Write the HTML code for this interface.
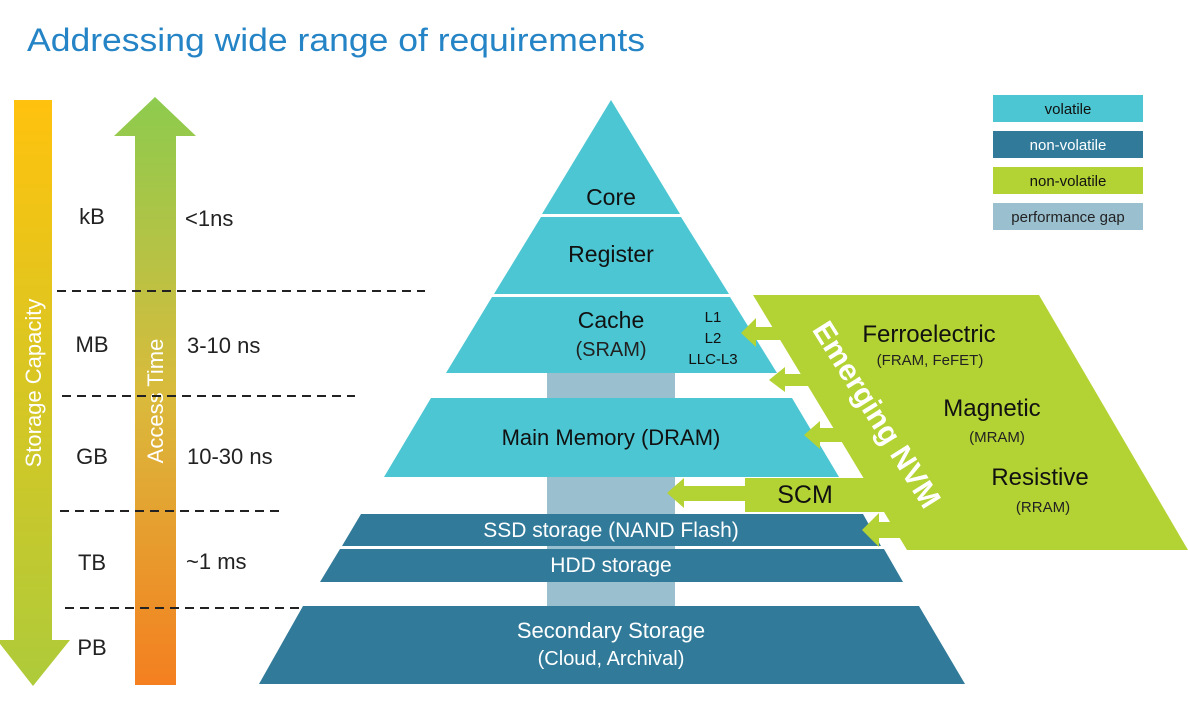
<!DOCTYPE html>
<html><head><meta charset="utf-8"><style>
html,body{margin:0;padding:0;background:#fff;}
svg{display:block;font-family:"Liberation Sans",sans-serif;}
</style></head><body>
<svg width="1188" height="715" viewBox="0 0 1188 715">
<defs>
<linearGradient id="g1" x1="0" y1="0" x2="0" y2="1"><stop offset="0" stop-color="#FFC20E"/><stop offset="1" stop-color="#AECB3A"/></linearGradient>
<linearGradient id="g2" x1="0" y1="0" x2="0" y2="1"><stop offset="0" stop-color="#8DCB4E"/><stop offset="0.5" stop-color="#D9BB3C"/><stop offset="1" stop-color="#F47F20"/></linearGradient>
</defs>
<text x="27" y="51" font-size="32" fill="#2484C6" textLength="618" lengthAdjust="spacingAndGlyphs">Addressing wide range of requirements</text>

<!-- left arrows -->
<polygon points="14,100 52,100 52,640 70,640 33,686 -3,640 14,640" fill="url(#g1)"/>
<polygon points="155,97 196,136 176,136 176,685 135,685 135,136 114,136" fill="url(#g2)"/>
<text transform="translate(41,383) rotate(-90)" text-anchor="middle" font-size="22" fill="#fff">Storage Capacity</text>
<text transform="translate(163,401) rotate(-90)" text-anchor="middle" font-size="22" fill="#fff">Access Time</text>

<g stroke="#222" stroke-width="2" stroke-dasharray="9,6">
<line x1="57" y1="291" x2="425" y2="291"/>
<line x1="62" y1="396" x2="355" y2="396"/>
<line x1="60" y1="511" x2="285" y2="511"/>
<line x1="65" y1="608" x2="305" y2="608"/>
</g>
<g font-size="22" fill="#222">
<text x="92" y="224" text-anchor="middle">kB</text><text x="185" y="226">&lt;1ns</text>
<text x="92" y="352" text-anchor="middle">MB</text><text x="187" y="353">3-10 ns</text>
<text x="92" y="464" text-anchor="middle">GB</text><text x="187" y="464">10-30 ns</text>
<text x="92" y="570" text-anchor="middle">TB</text><text x="186" y="569">~1 ms</text>
<text x="92" y="655" text-anchor="middle">PB</text>
</g>

<!-- gap bar -->
<rect x="547" y="372" width="128" height="236" fill="#9ABFCF"/>

<!-- pyramid -->
<polygon points="611,100 680,214 542,214" fill="#4BC6D2"/>
<polygon points="541,217 681,217 729,294 494,294" fill="#4BC6D2"/>
<polygon points="492,297 730,297 777,373 446,373" fill="#4BC6D2"/>
<polygon points="431,398 792,398 839,477 384,477" fill="#4BC6D2"/>
<polygon points="361,514 863,514 881,546 342,546" fill="#317A99"/>
<polygon points="340,549 884,549 903,582 320,582" fill="#317A99"/>
<polygon points="303,606 919,606 965,684 259,684" fill="#317A99"/>

<g fill="#111" text-anchor="middle">
<text x="611" y="205" font-size="23">Core</text>
<text x="611" y="262" font-size="23">Register</text>
<text x="611" y="328" font-size="23">Cache</text>
<text x="611" y="356" font-size="20" fill="#222">(SRAM)</text>
<text x="713" y="322" font-size="15">L1</text>
<text x="713" y="343" font-size="15">L2</text>
<text x="713" y="364" font-size="15">LLC-L3</text>
<text x="611" y="445" font-size="22">Main Memory (DRAM)</text>
</g>
<g fill="#fff" text-anchor="middle">
<text x="611" y="537" font-size="21">SSD storage (NAND Flash)</text>
<text x="611" y="572" font-size="21">HDD storage</text>
<text x="611" y="638" font-size="22">Secondary Storage</text>
<text x="611" y="665" font-size="20">(Cloud, Archival)</text>
</g>

<!-- green NVM -->
<polygon points="753,295 1039,295 1188,550 907,550" fill="#B3D234"/>
<g fill="#B3D234">
<polygon points="741,333 756,318 756,327 790,327 790,340 756,340 756,347"/>
<polygon points="769,380 785,367 785,374 818,374 818,386 785,386 785,392"/>
<polygon points="804,435 820,421 820,428 848,428 848,442 820,442 820,449"/>
<polygon points="862,530 879,513 879,522 905,522 905,538 879,538 879,547"/>
<rect x="745" y="478" width="140" height="34"/>
<polygon points="667,493 684,478 684,486 750,486 750,501 684,501 684,508"/>
</g>
<text transform="translate(868,420) rotate(58)" text-anchor="middle" font-size="30" font-weight="bold" fill="#fff">Emerging NVM</text>
<g fill="#111" text-anchor="middle">
<text x="805" y="503" font-size="25">SCM</text>
<text x="929" y="342" font-size="24">Ferroelectric</text>
<text x="930" y="365" font-size="15" fill="#222">(FRAM, FeFET)</text>
<text x="992" y="416" font-size="24">Magnetic</text>
<text x="997" y="442" font-size="15" fill="#222">(MRAM)</text>
<text x="1040" y="485" font-size="24">Resistive</text>
<text x="1043" y="512" font-size="15" fill="#222">(RRAM)</text>
</g>

<!-- legend -->
<rect x="993" y="95" width="150" height="27" fill="#4BC6D2"/>
<rect x="993" y="131" width="150" height="27" fill="#317A99"/>
<rect x="993" y="167" width="150" height="27" fill="#B3D234"/>
<rect x="993" y="203" width="150" height="27" fill="#9ABFCF"/>
<g font-size="15" text-anchor="middle">
<text x="1068" y="114" fill="#111">volatile</text>
<text x="1068" y="150" fill="#fff">non-volatile</text>
<text x="1068" y="186" fill="#111">non-volatile</text>
<text x="1068" y="222" fill="#222">performance gap</text>
</g>
</svg>
</body></html>
